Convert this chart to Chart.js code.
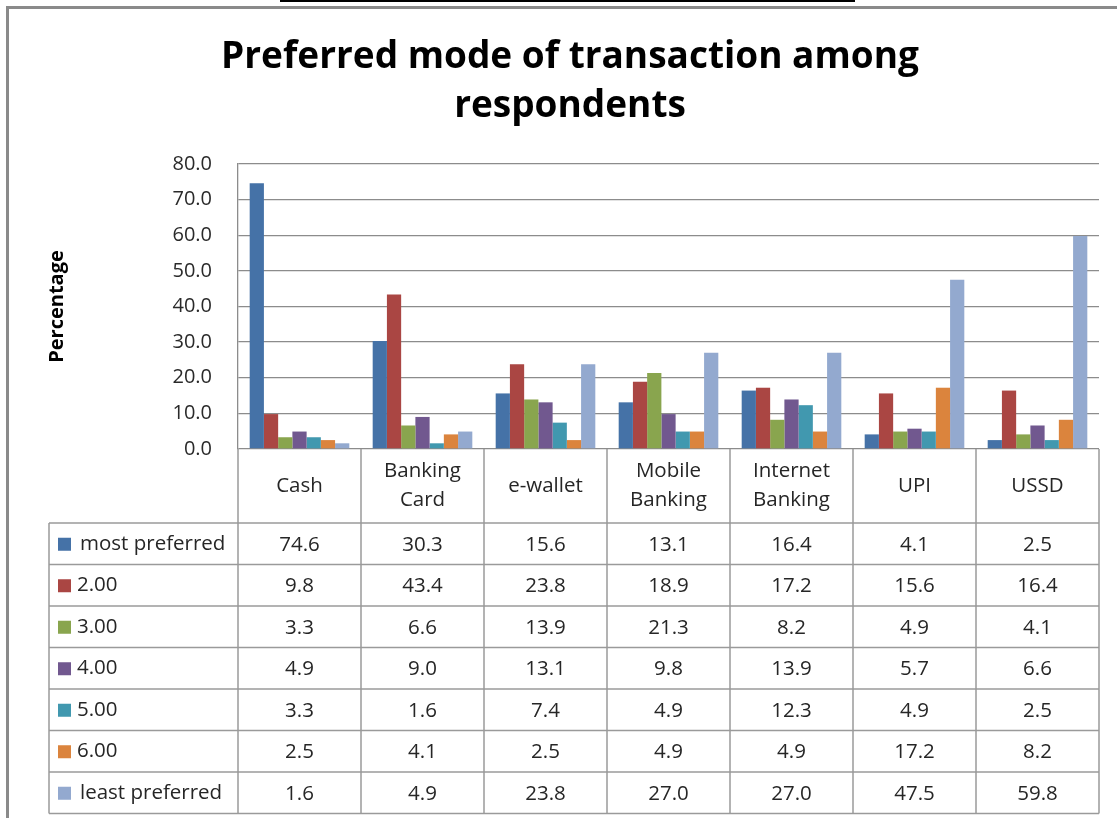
<!DOCTYPE html>
<html>
<head>
<meta charset="utf-8">
<script src="https://cdn.jsdelivr.net/npm/chart.js@4/dist/chart.umd.min.js"></script>
<style>
  html, body { margin: 0; padding: 0; background: #fff; }
  #wrap { width: 1117px; height: 818px; }
</style>
</head>
<body>
<div id="wrap"><canvas id="myChart" width="1117" height="818"></canvas></div>
<script>
var categories = [["Cash"], ["Banking", "Card"], ["e-wallet"], ["Mobile", "Banking"], ["Internet", "Banking"], ["UPI"], ["USSD"]];
var seriesNames = ["most preferred", "2.00", "3.00", "4.00", "5.00", "6.00", "least preferred"];
var mostPreferred = [74.6, 30.3, 15.6, 13.1, 16.4, 4.1, 2.5];
var rank2 = [9.8, 43.4, 23.8, 18.9, 17.2, 15.6, 16.4];
var rank3 = [3.3, 6.6, 13.9, 21.3, 8.2, 4.9, 4.1];
var rank4 = [4.9, 9.0, 13.1, 9.8, 13.9, 5.7, 6.6];
var rank5 = [3.3, 1.6, 7.4, 4.9, 12.3, 4.9, 2.5];
var rank6 = [2.5, 4.1, 2.5, 4.9, 4.9, 17.2, 8.2];
var leastPreferred = [1.6, 4.9, 23.8, 27.0, 27.0, 47.5, 59.8];
var yTicks = [0, 10, 20, 30, 40, 50, 60, 70, 80];

var allSeries = [mostPreferred, rank2, rank3, rank4, rank5, rank6, leastPreferred];
var colors = ["#4572A7", "#AA4643", "#89A54E", "#71588F", "#4198AF", "#DB843D", "#93A9CF"];

var FONT = "'Open Sans', sans-serif";
var TEXT = "#262626";
var LINE = "#9a9a9a";

// data table under the plot, drawn from the x scale positions
var tablePlugin = {
  id: "dataTable",
  afterDraw: function (chart) {
    var ctx = chart.ctx;
    var x = chart.scales.x;
    var area = chart.chartArea;
    var colW = x.getPixelForValue(1) - x.getPixelForValue(0);
    var left = x.getPixelForValue(0) - colW / 2;
    var right = x.getPixelForValue(categories.length - 1) + colW / 2;
    var headTop = area.bottom;
    var headBottom = 523;
    var rowH = 41.5;
    var legLeft = 49;
    var bottom = headBottom + rowH * seriesNames.length;

    ctx.save();
    // page frame
    ctx.fillStyle = "#8a8a8a";
    ctx.fillRect(6, 6, 1111, 3);
    ctx.fillRect(6, 6, 3, 812);
    ctx.fillStyle = "#000";
    ctx.fillRect(280, 0, 575, 2);

    ctx.strokeStyle = LINE;
    ctx.lineWidth = 1.5;
    ctx.beginPath();
    for (var i = 0; i <= categories.length; i++) {
      var vx = left + i * colW;
      ctx.moveTo(vx, headTop);
      ctx.lineTo(vx, bottom);
    }
    ctx.moveTo(legLeft, headBottom);
    ctx.lineTo(legLeft, bottom);
    for (var r = 0; r <= seriesNames.length; r++) {
      var hy = headBottom + r * rowH;
      ctx.moveTo(legLeft, hy);
      ctx.lineTo(right, hy);
    }
    ctx.stroke();

    ctx.fillStyle = TEXT;
    ctx.font = "20.5px " + FONT;
    ctx.textAlign = "center";
    ctx.textBaseline = "middle";
    var headMid = (headTop + headBottom) / 2;
    categories.forEach(function (lines, i) {
      var cx = x.getPixelForValue(i);
      lines.forEach(function (t, k) {
        ctx.fillText(t, cx, headMid + (k - (lines.length - 1) / 2) * 29);
      });
    });

    seriesNames.forEach(function (name, s) {
      var cy = headBottom + s * rowH + rowH / 2;
      ctx.fillStyle = colors[s];
      ctx.fillRect(58, cy - 6, 13, 13);
      ctx.fillStyle = TEXT;
      ctx.textAlign = "left";
      ctx.fillText(name, s === 0 || s === 6 ? 80 : 77, cy);
      ctx.textAlign = "center";
      allSeries[s].forEach(function (v, i) {
        ctx.fillText(v.toFixed(1), x.getPixelForValue(i), cy + 1);
      });
    });
    ctx.restore();
  }
};

new Chart("myChart", {
  type: "bar",
  data: {
    labels: categories.map(function (c) { return c.join(" "); }),
    datasets: seriesNames.map(function (name, s) {
      return {
        label: name,
        data: allSeries[s],
        backgroundColor: colors[s],
        barPercentage: 1.0,
        categoryPercentage: 0.81
      };
    })
  },
  options: {
    responsive: false,
    animation: false,
    layout: { padding: { left: 41, top: 0, right: 18, bottom: 369 } },
    plugins: {
      legend: { display: false },
      tooltip: { enabled: false },
      title: {
        display: true,
        text: ["Preferred mode of transaction among", "respondents"],
        color: "#000",
        font: { family: FONT, size: 37, weight: "bold", lineHeight: 49 / 37 },
        padding: { top: 33, bottom: 33 }
      }
    },
    scales: {
      x: { display: false },
      y: {
        min: 0,
        max: 80,
        afterBuildTicks: function (scale) {
          scale.ticks = yTicks.map(function (v) { return { value: v }; });
        },
        afterFit: function (scale) { scale.width = 197; },
        grid: { color: "#8c8c8c", lineWidth: 1.3, drawTicks: false },
        border: { color: "#8c8c8c", width: 1.3 },
        ticks: {
          padding: 26,
          color: "#2a2a2a",
          font: { family: FONT, size: 20 },
          callback: function (v) { return Number(v).toFixed(1); }
        },
        title: {
          display: true,
          text: "Percentage",
          color: "#000",
          font: { family: FONT, size: 20, weight: "bold", lineHeight: 1.2 },
          padding: { top: 4 }
        }
      }
    }
  },
  plugins: [tablePlugin]
});
</script>
</body>
</html>
